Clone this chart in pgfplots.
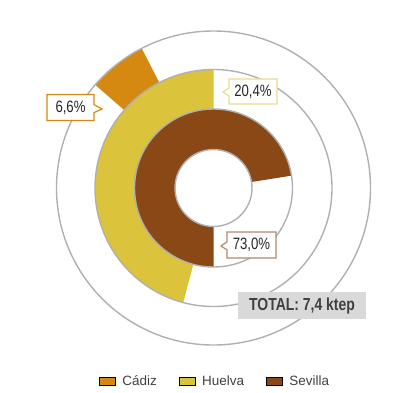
\documentclass[border=0pt]{standalone}
\usepackage{pgfplots}
\pgfplotsset{compat=1.18}
\usetikzlibrary{shapes.callouts}
\usepackage{fontspec}
\setmainfont{Liberation Sans}
\newfontfamily\cond{Liberation Sans}[FakeStretch=0.8]

\definecolor{cadiz}{RGB}{214,137,16}
\definecolor{huelva}{RGB}{219,195,60}
\definecolor{sevilla}{RGB}{137,72,22}
\definecolor{ringgray}{RGB}{176,176,176}
\definecolor{textgray}{RGB}{64,64,64}
\definecolor{labeltext}{RGB}{38,38,38}
\definecolor{totalgray}{RGB}{217,217,217}
\definecolor{huelvaborder}{RGB}{232,218,150}
\definecolor{sevillaborder}{RGB}{181,135,105}

% annular sector: colour, start angle, end angle, inner radius, outer radius
\newcommand{\sector}[5]{\fill[#1] (#2:#4) arc[start angle=#2,end angle=#3,radius=#4] -- (#3:#5) arc[start angle=#3,end angle=#2,radius=#5] -- cycle;}

\begin{document}
\begin{tikzpicture}
\begin{axis}[
  scale only axis, width=402bp, height=393bp,
  xmin=0, xmax=402, ymin=0, ymax=393, y dir=reverse,
  hide axis, clip=false,
  legend columns=3,
  legend style={at={(axis cs:215,381)}, anchor=center, draw=none, fill=none,
    font=\fontsize{13.5}{15}\selectfont, text=textgray,
    /tikz/every even column/.append style={column sep=20bp},
    /tikz/every odd column/.append style={column sep=5bp}},
  legend cell align=left,
  legend image code/.code={\fill[#1] (0bp,-4bp) rectangle (16bp,4bp);},
]
\path (axis cs:0,0) rectangle (axis cs:402,393);
\addlegendimage{fill=cadiz}
\addlegendentry{Cádiz}
\addlegendimage{fill=huelva}
\addlegendentry{Huelva}
\addlegendimage{fill=sevilla}
\addlegendentry{Sevilla}

\begin{scope}[shift={(axis cs:213.5,188)}, x=1bp, y=1bp]
  % Cádiz 6,6 %  (outer ring)
  \sector{cadiz}{117.2}{138.9}{118.5}{157}
  % Huelva 20,4 % (middle ring)
  \sector{huelva}{90}{255.2}{79}{118.5}
  % Sevilla 73,0 % (inner ring)
  \sector{sevilla}{9}{270}{38.5}{79}
  \draw[ringgray, line width=1.4bp] (0,0) circle[radius=157];
  \draw[ringgray, line width=1.4bp] (0,0) circle[radius=118.5];
  \draw[ringgray, line width=1.4bp] (0,0) circle[radius=79];
  \draw[ringgray, line width=1.4bp] (0,0) circle[radius=38.5];
\end{scope}

\coordinate (pA) at (axis cs:102,109);
\coordinate (pB) at (axis cs:223,92);
\coordinate (pC) at (axis cs:221,246);
\node[rectangle callout, draw=cadiz, line width=1.2bp, fill=white,
  minimum width=47bp, minimum height=26bp, inner sep=0pt,
  callout absolute pointer={(pA)}, callout pointer width=8bp,
  font=\cond\fontsize{16.5}{18}\selectfont, text=labeltext]
  at (axis cs:70.5,107.5) {6,6\%};
\node[rectangle callout, draw=huelvaborder, line width=1.2bp, fill=white,
  minimum width=48bp, minimum height=25bp, inner sep=0pt,
  callout absolute pointer={(pB)}, callout pointer width=8bp,
  font=\cond\fontsize{16.5}{18}\selectfont, text=labeltext]
  at (axis cs:253,91.5) {20,4\%};
\node[rectangle callout, draw=sevillaborder, line width=1.2bp, fill=white,
  minimum width=49bp, minimum height=26bp, inner sep=0pt,
  callout absolute pointer={(pC)}, callout pointer width=8bp,
  font=\cond\fontsize{16.5}{18}\selectfont, text=labeltext]
  at (axis cs:251.5,245) {73,0\%};
\node[fill=totalgray, minimum width=128bp, minimum height=27bp, inner sep=0pt,
  font=\cond\bfseries\fontsize{17.5}{20}\selectfont, text=textgray]
  at (axis cs:302,305.5) {TOTAL: 7,4 ktep};
\end{axis}
\end{tikzpicture}
\end{document}
